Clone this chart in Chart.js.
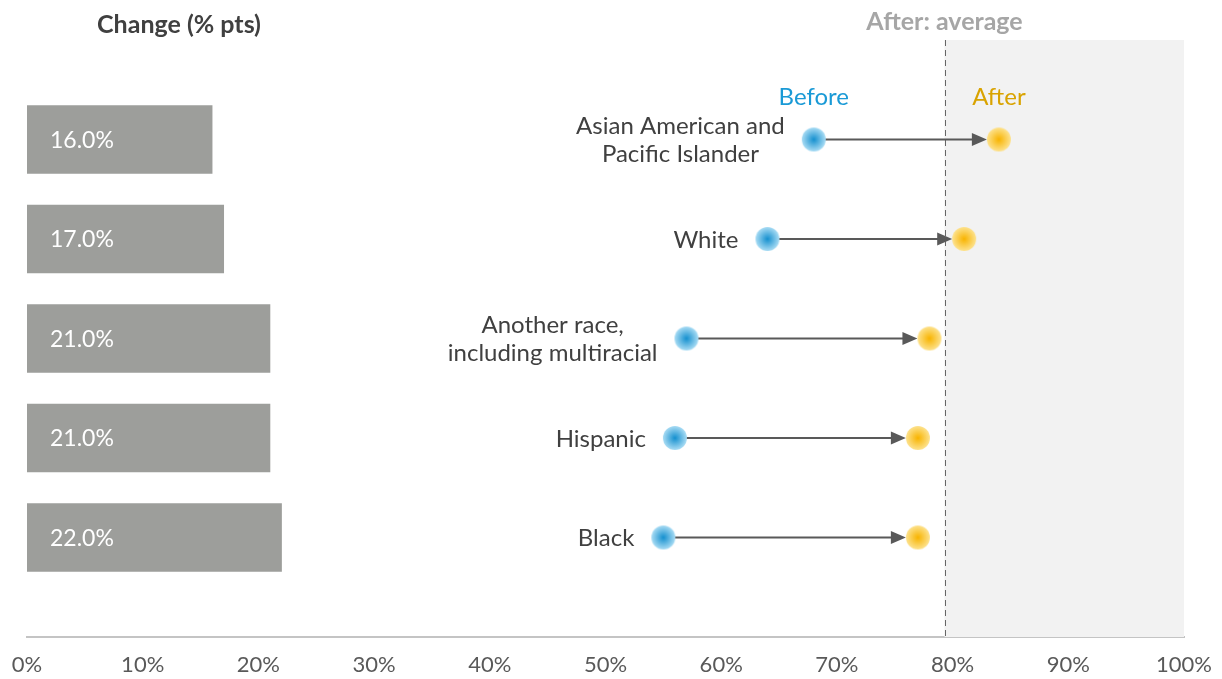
<!DOCTYPE html>
<html>
<head>
<meta charset="utf-8">
<script src="https://cdn.jsdelivr.net/npm/chart.js@4"></script>
<style>
  body { margin: 0; background: #fff; }
  #wrap { width: 1222px; height: 679px; position: relative; }
</style>
</head>
<body>
<div id="wrap"><canvas id="chart"></canvas></div>
<script>
// Chart values
const groups = [
  ['Asian American and', 'Pacific Islander'],
  ['White'],
  ['Another race,', 'including multiracial'],
  ['Hispanic'],
  ['Black'],
];
const beforeValues = [68, 64, 57, 56, 55];
const afterValues = [84, 81, 78, 77, 77];
const changeValues = [16, 17, 21, 21, 22];
const afterAverage = 79.3;

const FONT = 'Lato, "Open Sans", sans-serif';
const TEXT = '#404040';

// gradient dot used as the point style
function makeDot(inner, outer) {
  const r = 12;
  const c = document.createElement('canvas');
  c.width = c.height = r * 2 + 2;
  const g = c.getContext('2d');
  const grad = g.createRadialGradient(r + 1, r + 1, 0, r + 1, r + 1, r);
  grad.addColorStop(0, inner);
  grad.addColorStop(1, outer);
  g.fillStyle = grad;
  g.beginPath();
  g.arc(r + 1, r + 1, r, 0, Math.PI * 2);
  g.fill();
  return c;
}
const blueDot = makeDot('#1590cf', '#a9dcf4');
const yellowDot = makeDot('#f8b400', '#fde28e');

const rowIdx = groups.map((g, i) => i);

// shaded "after average" zone, arrows and text
const overlay = {
  id: 'overlay',
  beforeDatasetsDraw(chart) {
    const { ctx, chartArea, scales: { x, y } } = chart;
    const ax = x.getPixelForValue(afterAverage);
    ctx.save();
    ctx.fillStyle = '#f2f2f2';
    ctx.fillRect(ax, chartArea.top, x.getPixelForValue(100) - ax, chartArea.bottom - chartArea.top);
    ctx.strokeStyle = '#666';
    ctx.lineWidth = 1;
    ctx.setLineDash([6, 4]);
    ctx.beginPath();
    ctx.moveTo(Math.round(ax) + 0.5, chartArea.top);
    ctx.lineTo(Math.round(ax) + 0.5, chartArea.bottom);
    ctx.stroke();
    ctx.setLineDash([]);

    // arrows
    ctx.strokeStyle = '#595959';
    ctx.fillStyle = '#595959';
    ctx.lineWidth = 2;
    rowIdx.forEach(i => {
      const yy = y.getPixelForValue(i);
      const x0 = x.getPixelForValue(beforeValues[i]) + 10;
      const x1 = x.getPixelForValue(afterValues[i]) - 12;
      ctx.beginPath();
      ctx.moveTo(x0, yy);
      ctx.lineTo(x1 - 12, yy);
      ctx.stroke();
      ctx.beginPath();
      ctx.moveTo(x1, yy);
      ctx.lineTo(x1 - 15, yy - 6.5);
      ctx.lineTo(x1 - 15, yy + 6.5);
      ctx.closePath();
      ctx.fill();
    });
    ctx.restore();
  },
  afterDatasetsDraw(chart) {
    const { ctx, scales: { x, y } } = chart;
    ctx.save();
    ctx.textBaseline = 'middle';

    // bar values
    ctx.font = '23px ' + FONT;
    ctx.fillStyle = '#ffffff';
    ctx.textAlign = 'left';
    rowIdx.forEach(i => {
      ctx.fillText(changeValues[i].toFixed(1) + '%', x.getPixelForValue(0) + 23, y.getPixelForValue(i) + 1);
    });

    // group labels
    ctx.font = '24px ' + FONT;
    ctx.fillStyle = TEXT;
    ctx.textAlign = 'center';
    rowIdx.forEach(i => {
      const lines = groups[i];
      const w = Math.max(...lines.map(l => ctx.measureText(l).width));
      const cx = x.getPixelForValue(beforeValues[i]) - 29 - w / 2;
      const yy = y.getPixelForValue(i);
      lines.forEach((l, k) => {
        ctx.fillText(l, cx, yy + 1 + (k - (lines.length - 1) / 2) * 28);
      });
    });

    // Before / After
    const y0 = y.getPixelForValue(0) - 42;
    ctx.fillStyle = '#1a9ad6';
    ctx.fillText('Before', x.getPixelForValue(beforeValues[0]), y0);
    ctx.fillStyle = '#d9a300';
    ctx.fillText('After', x.getPixelForValue(afterValues[0]), y0);

    // headers
    ctx.font = 'bold 25px ' + FONT;
    ctx.fillStyle = TEXT;
    ctx.fillText('Change (% pts)', 179, 25);
    ctx.fillStyle = '#a6a6a6';
    ctx.fillText('After: average', x.getPixelForValue(afterAverage), 22);
    ctx.restore();
  }
};

new Chart(document.getElementById('chart'), {
  type: 'bar',
  data: {
    datasets: [
      {
        type: 'bar',
        indexAxis: 'y',
        data: rowIdx.map(i => ({ x: changeValues[i], y: i })),
        backgroundColor: '#9d9e9b',
        barThickness: 68,
        order: 3,
      },
      {
        type: 'scatter',
        data: rowIdx.map(i => ({ x: beforeValues[i], y: i })),
        pointStyle: blueDot,
        order: 1,
      },
      {
        type: 'scatter',
        data: rowIdx.map(i => ({ x: afterValues[i], y: i })),
        pointStyle: yellowDot,
        order: 1,
      },
    ],
  },
  options: {
    responsive: true,
    maintainAspectRatio: false,
    animation: false,
    layout: { padding: { left: 27, right: 38, top: 40, bottom: 0 } },
    plugins: { legend: { display: false }, tooltip: { enabled: false } },
    scales: {
      x: {
        type: 'linear',
        min: 0,
        max: 100,
        offset: false,
        afterFit(scale) {
          scale.height = 42;
          scale.paddingLeft = 0;
          scale.paddingRight = 0;
        },
        grid: { display: false, drawTicks: false, offset: false },
        border: { display: true, color: '#c4c4c4', width: 2 },
        ticks: {
          stepSize: 10,
          autoSkip: false,
          maxRotation: 0,
          padding: 15,
          color: '#595959',
          font: { family: FONT, size: 22 },
          callback: v => v + '%',
        },
      },
      y: {
        type: 'linear',
        min: -1,
        max: 5,
        reverse: true,
        offset: false,
        display: false,
      },
    },
  },
  plugins: [overlay],
});
</script>
</body>
</html>
